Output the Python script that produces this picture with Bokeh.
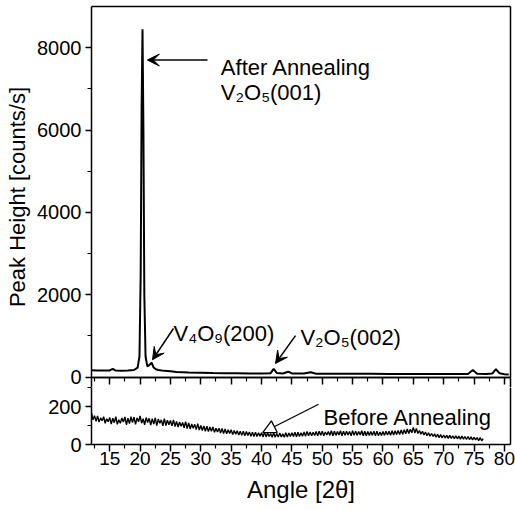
from bokeh.plotting import figure
from bokeh.layouts import column
from bokeh.models import (Range1d, LinearAxis, SingleIntervalTicker, FixedTicker,
                          Label, Arrow, VeeHead, NormalHead)
from bokeh.embed import file_html
from bokeh.resources import INLINE

FONT = "Liberation Sans"

# ---- After annealing trace (angle, counts/s) ----
after_angle = [12.0, 13.0, 14.0, 15.0, 15.5, 16.0, 17.0, 18.0, 19.0, 19.6, 19.9, 20.1,
               20.25, 20.4, 20.55, 20.7, 20.9, 21.2, 21.6, 21.9, 22.2, 22.6, 23.0, 24.0,
               25.0, 26.0, 28.0, 30.0, 32.0, 34.0, 36.0, 38.0, 40.0, 41.5, 42.0, 42.5,
               43.5, 44.4, 45.0, 47.0, 48.1, 49.0, 52.0, 55.0, 58.0, 61.0, 64.0, 67.0,
               70.0, 72.0, 74.0, 74.8, 75.5, 77.0, 78.0, 78.6, 79.2, 80.0, 80.7]
after_counts = [165, 160, 158, 160, 200, 158, 155, 160, 170, 230, 500, 2500,
                6500, 8450, 6000, 2000, 500, 260, 300, 350, 240, 190, 170, 150,
                138, 125, 112, 105, 98, 95, 92, 88, 86, 95, 200, 100,
                85, 130, 88, 84, 115, 82, 80, 78, 78, 76, 75, 74,
                72, 72, 74, 170, 78, 76, 85, 190, 90, 70, 62]

# ---- Before annealing trace: angle 12.0 .. 76.5 in 0.25 steps ----
before_angle = [12.0 + 0.25 * i for i in range(259)]
before_counts = [
    168, 130, 152, 122, 150, 118, 140, 125, 146, 112, 135, 120,   # 12-14
    142, 108, 138, 115, 146, 106, 130, 112, 140, 118, 145, 104,   # 15-17
    138, 110, 146, 116, 144, 106, 140, 120, 150, 112, 136, 104,   # 18-20
    142, 116, 138, 102, 136, 108, 140, 100, 134, 112, 130, 98,    # 21-23
    136, 100, 128, 104, 126, 98, 130, 94, 122, 92, 118, 96,       # 24-26
    116, 88, 120, 84, 114, 82, 108, 86, 106, 78, 110, 76,         # 27-29
    100, 74, 98, 70, 96, 68, 92, 70, 92, 64, 86, 66,              # 30-32
    86, 60, 84, 58, 82, 56, 78, 58, 78, 52, 74, 54,               # 33-35
    72, 50, 70, 48, 70, 46, 68, 48, 66, 44, 64, 42,               # 36-38
    64, 42, 62, 44, 62, 40, 64, 40, 60, 42, 58, 38,               # 39-41
    62, 38, 58, 40, 60, 40, 56, 38, 62, 40, 60, 42,               # 42-44
    62, 42, 64, 40, 64, 42, 62, 44, 66, 44, 68, 46,               # 45-47
    66, 46, 64, 48, 68, 46, 70, 48, 70, 46, 66, 50,               # 48-50
    68, 48, 72, 46, 70, 48, 68, 50, 72, 46, 70, 48,               # 51-53
    70, 50, 68, 46, 72, 48, 70, 48, 68, 50, 72, 46,               # 54-56
    70, 46, 68, 48, 68, 48, 70, 46, 70, 46, 66, 48,               # 57-59
    68, 48, 70, 50, 70, 48, 72, 50, 72, 52, 74, 52,               # 60-62
    76, 54, 78, 56, 82, 58, 80, 62, 90, 60, 84, 58,               # 63-65
    74, 54, 70, 50, 66, 46, 62, 44, 58, 42, 56, 38,               # 66-68
    54, 36, 52, 34, 50, 34, 48, 32, 48, 32, 46, 30,               # 69-71
    46, 30, 44, 28, 44, 28, 42, 26, 42, 26, 40, 24,               # 72-74
    38, 24, 36, 20, 36, 20, 30]                                   # 75-76.5

top_major_ticks = [0, 2000, 4000, 6000, 8000]
top_minor_ticks = [1000, 3000, 5000, 7000]
bottom_major_ticks = [0, 200]
bottom_minor_ticks = [100, 300]
angle_major_ticks = [15, 20, 25, 30, 35, 40, 45, 50, 55, 60, 65, 70, 75, 80]
angle_minor_ticks = [12.5, 17.5, 22.5, 27.5, 32.5, 37.5, 42.5, 47.5, 52.5, 57.5,
                     62.5, 67.5, 72.5, 77.5]

x_range = Range1d(12, 81)


def line_only_axis():
    return LinearAxis(ticker=FixedTicker(ticks=[]), major_tick_in=0, major_tick_out=0,
                      minor_tick_in=0, minor_tick_out=0,
                      major_label_standoff=0,
                      axis_line_color="black", axis_line_width=1.5)


def style_common(p):
    p.outline_line_color = None
    p.xgrid.visible = False
    p.ygrid.visible = False
    p.background_fill_color = "white"
    p.border_fill_color = "white"


def style_axis(ax):
    ax.axis_line_color = "black"
    ax.axis_line_width = 1.5
    ax.major_tick_line_color = "black"
    ax.minor_tick_line_color = "black"
    ax.major_tick_out = 6
    ax.major_tick_in = 0
    ax.minor_tick_out = 4
    ax.minor_tick_in = 0
    ax.major_tick_line_width = 1.5
    ax.minor_tick_line_width = 1.2
    ax.major_label_text_font = FONT
    ax.major_label_text_color = "black"
    ax.axis_label_text_font = FONT
    ax.axis_label_text_font_style = "normal"
    ax.axis_label_text_color = "black"


# ---------------- top panel ----------------
p1 = figure(frame_width=419, frame_height=381, x_range=x_range,
            y_range=Range1d(-254, 9000), x_axis_location=None,
            min_border_left=91, min_border_right=5, min_border_top=6, min_border_bottom=0,
            output_backend="svg", toolbar_location=None)
style_common(p1)
p1.yaxis.ticker = FixedTicker(ticks=top_major_ticks, minor_ticks=top_minor_ticks)
p1.yaxis.axis_label = "Peak Height [counts/s]"
for ax in p1.yaxis:
    style_axis(ax)
    ax.major_label_text_font_size = "20px"
    ax.major_label_standoff = 4
    ax.axis_label_text_font_size = "22px"
    ax.axis_label_standoff = 4

p1.add_layout(line_only_axis(), "above")
p1.add_layout(line_only_axis(), "right")

# boundary between the panels (counts = 0) with downward ticks, no labels
sep_long = LinearAxis(fixed_location=0,
                      ticker=FixedTicker(ticks=[], minor_ticks=angle_major_ticks))
style_axis(sep_long)
sep_long.minor_tick_out = 7
sep_long.minor_tick_line_width = 1.5
p1.add_layout(sep_long, "below")
sep_short = LinearAxis(fixed_location=0,
                       ticker=FixedTicker(ticks=[], minor_ticks=angle_minor_ticks))
style_axis(sep_short)
sep_short.minor_tick_out = 4
p1.add_layout(sep_short, "below")

p1.line(after_angle, after_counts, line_color="black", line_width=2)

head = dict(size=12, fill_color="black", line_color="black")
p1.add_layout(Arrow(end=VeeHead(**head), x_start=31.1, y_start=7700, x_end=21.2, y_end=7700,
                    line_color="black", line_width=1.5))
p1.add_layout(Label(x=33.3, y=7520, text="After Annealing", text_font=FONT,
                    text_font_size="22px", text_color="black", text_baseline="alphabetic"))
p1.add_layout(Label(x=33.3, y=6900, text="V₂O₅(001)", text_font=FONT,
                    text_font_size="22px", text_color="black", text_baseline="alphabetic"))
p1.add_layout(Arrow(end=VeeHead(**head), x_start=25.5, y_start=1180, x_end=22.05, y_end=420,
                    line_color="black", line_width=1.5))
p1.add_layout(Label(x=25.5, y=1056, text="V₄O₉(200)", text_font=FONT,
                    text_font_size="22px", text_color="black", text_baseline="alphabetic"))
p1.add_layout(Arrow(end=VeeHead(**head), x_start=45.6, y_start=1007, x_end=42.3, y_end=330,
                    line_color="black", line_width=1.5))
p1.add_layout(Label(x=46.4, y=959, text="V₂O₅(002)", text_font=FONT,
                    text_font_size="22px", text_color="black", text_baseline="alphabetic"))

# ---------------- bottom panel ----------------
p2 = figure(frame_width=419, frame_height=57, x_range=x_range,
            y_range=Range1d(0, 300),
            min_border_left=91, min_border_right=5, min_border_top=0, min_border_bottom=0,
            output_backend="svg", toolbar_location=None)
style_common(p2)
p2.xaxis.ticker = FixedTicker(ticks=angle_major_ticks, minor_ticks=angle_minor_ticks)
p2.xaxis.axis_label = "Angle [2θ]"
p2.yaxis.ticker = FixedTicker(ticks=bottom_major_ticks, minor_ticks=bottom_minor_ticks)
for ax in list(p2.xaxis) + list(p2.yaxis):
    style_axis(ax)
    ax.major_label_text_font_size = "19px"
    ax.major_label_standoff = 0
    ax.axis_label_text_font_size = "24px"
    ax.axis_label_standoff = 8
for ax in p2.xaxis:
    ax.major_tick_out = 7
for ax in p2.yaxis:
    ax.major_label_text_font_size = "20px"
    ax.major_label_standoff = 4
p2.add_layout(line_only_axis(), "right")

p2.line(before_angle, before_counts, line_color="black", line_width=1.4)

p2.add_layout(Arrow(end=NormalHead(size=13, fill_color="white", line_color="black", line_width=1.3),
                    x_start=49.4, y_start=212, x_end=40.2, y_end=63,
                    line_color="black", line_width=1.3))
p2.add_layout(Label(x=50.2, y=142, text="Before Annealing", text_font=FONT,
                    text_font_size="22px", text_color="black", text_baseline="alphabetic"))

layout = column(p1, p2, spacing=0)
open("out.html", "w").write(file_html(layout, INLINE))
